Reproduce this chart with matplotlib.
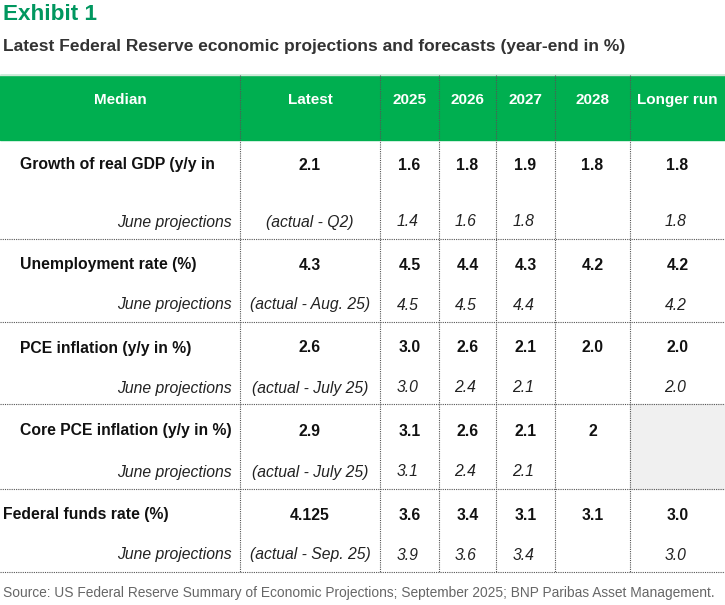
import matplotlib.pyplot as plt
from matplotlib.patches import Rectangle

# Table content
header = ["Median", "Latest", "2025", "2026", "2027", "2028", "Longer run"]
row_labels = ["Growth of real GDP (y/y in", "Unemployment rate (%)",
              "PCE inflation (y/y in %)", "Core PCE inflation (y/y in %)",
              "Federal funds rate (%)"]
latest = ["2.1", "4.3", "2.6", "2.9", "4.125"]
latest_note = ["(actual - Q2)", "(actual - Aug. 25)", "(actual - July 25)",
               "(actual - July 25)", "(actual - Sep. 25)"]
sep_proj = [["1.6", "1.8", "1.9", "1.8", "1.8"],
            ["4.5", "4.4", "4.3", "4.2", "4.2"],
            ["3.0", "2.6", "2.1", "2.0", "2.0"],
            ["3.1", "2.6", "2.1", "2", ""],
            ["3.6", "3.4", "3.1", "3.1", "3.0"]]
june_proj = [["1.4", "1.6", "1.8", "", "1.8"],
             ["4.5", "4.5", "4.4", "", "4.2"],
             ["3.0", "2.4", "2.1", "", "2.0"],
             ["3.1", "2.4", "2.1", "", ""],
             ["3.9", "3.6", "3.4", "", "3.0"]]

plt.rcParams['font.family'] = 'Liberation Sans'

# layout in pixels
col_edges = [0, 240, 380, 439, 496, 555, 630, 725]
row_edges = [140, 239, 322, 404, 489, 572]
main_y = [165, 265, 348, 431, 515]
june_y = [222, 305, 388, 472, 555]
label_x = [20, 20, 20, 20, 3]

fig = plt.figure(figsize=(7.25, 6.05), dpi=100)
ax = fig.add_axes([0, 0, 1, 1])
ax.set_xlim(0, 725)
ax.set_ylim(605, 0)
ax.axis('off')

fs = 11.3

# titles
ax.text(3, 14, "Exhibit 1", color='#00975F', fontsize=16.2,
        fontweight='bold', va='center', ha='left')
ax.text(3, 46, "Latest Federal Reserve economic projections and forecasts (year-end in %)",
        color='#333333', fontsize=12.5, fontweight='bold', va='center', ha='left')

# header band
ax.add_patch(Rectangle((0, 75), 725, 65, color='#00AF50', zorder=1))
ax.plot([0, 725], [74.5, 74.5], color='#cfe8d8', lw=1, zorder=2)
centers = [(col_edges[i] + col_edges[i + 1]) / 2 for i in range(len(col_edges) - 1)]
for i, h in enumerate(header):
    ax.text(centers[i], 100, h, color='white', fontsize=11, fontweight='bold',
            ha='center', va='center', zorder=3)

# grey empty cell
ax.add_patch(Rectangle((630, 404), 95, 85, color='#F0F0F0', zorder=1))

# grid lines
for x in col_edges[1:-1]:
    ax.plot([x, x], [75, 572], color='#555555', lw=0.8, ls=(0, (1, 1)), zorder=2)
for y in row_edges[1:]:
    ax.plot([0, 725], [y, y], color='#555555', lw=0.8, ls=(0, (1, 1)), zorder=2)

# rows
for r in range(len(row_labels)):
    ax.text(label_x[r], main_y[r], row_labels[r], fontsize=fs, fontweight='bold',
            color='#111111', ha='left', va='center')
    ax.text(232, june_y[r], "June projections", fontsize=fs, style='italic',
            color='#222222', ha='right', va='center')
    ax.text(centers[1], main_y[r], latest[r], fontsize=fs, fontweight='bold',
            color='#111111', ha='center', va='center')
    ax.text(centers[1], june_y[r], latest_note[r], fontsize=fs, style='italic',
            color='#222222', ha='center', va='center')
    for c in range(5):
        ax.text(centers[c + 2], main_y[r], sep_proj[r][c], fontsize=fs,
                fontweight='bold', color='#111111', ha='center', va='center')
        ax.text(centers[c + 2] - 2, june_y[r], june_proj[r][c], fontsize=fs,
                style='italic', color='#222222', ha='center', va='center')

ax.text(3, 593, "Source: US Federal Reserve Summary of Economic Projections; September 2025; "
        "BNP Paribas Asset Management.", fontsize=9.9, color='#666666',
        ha='left', va='center')

fig.savefig("out.png", dpi=100)
